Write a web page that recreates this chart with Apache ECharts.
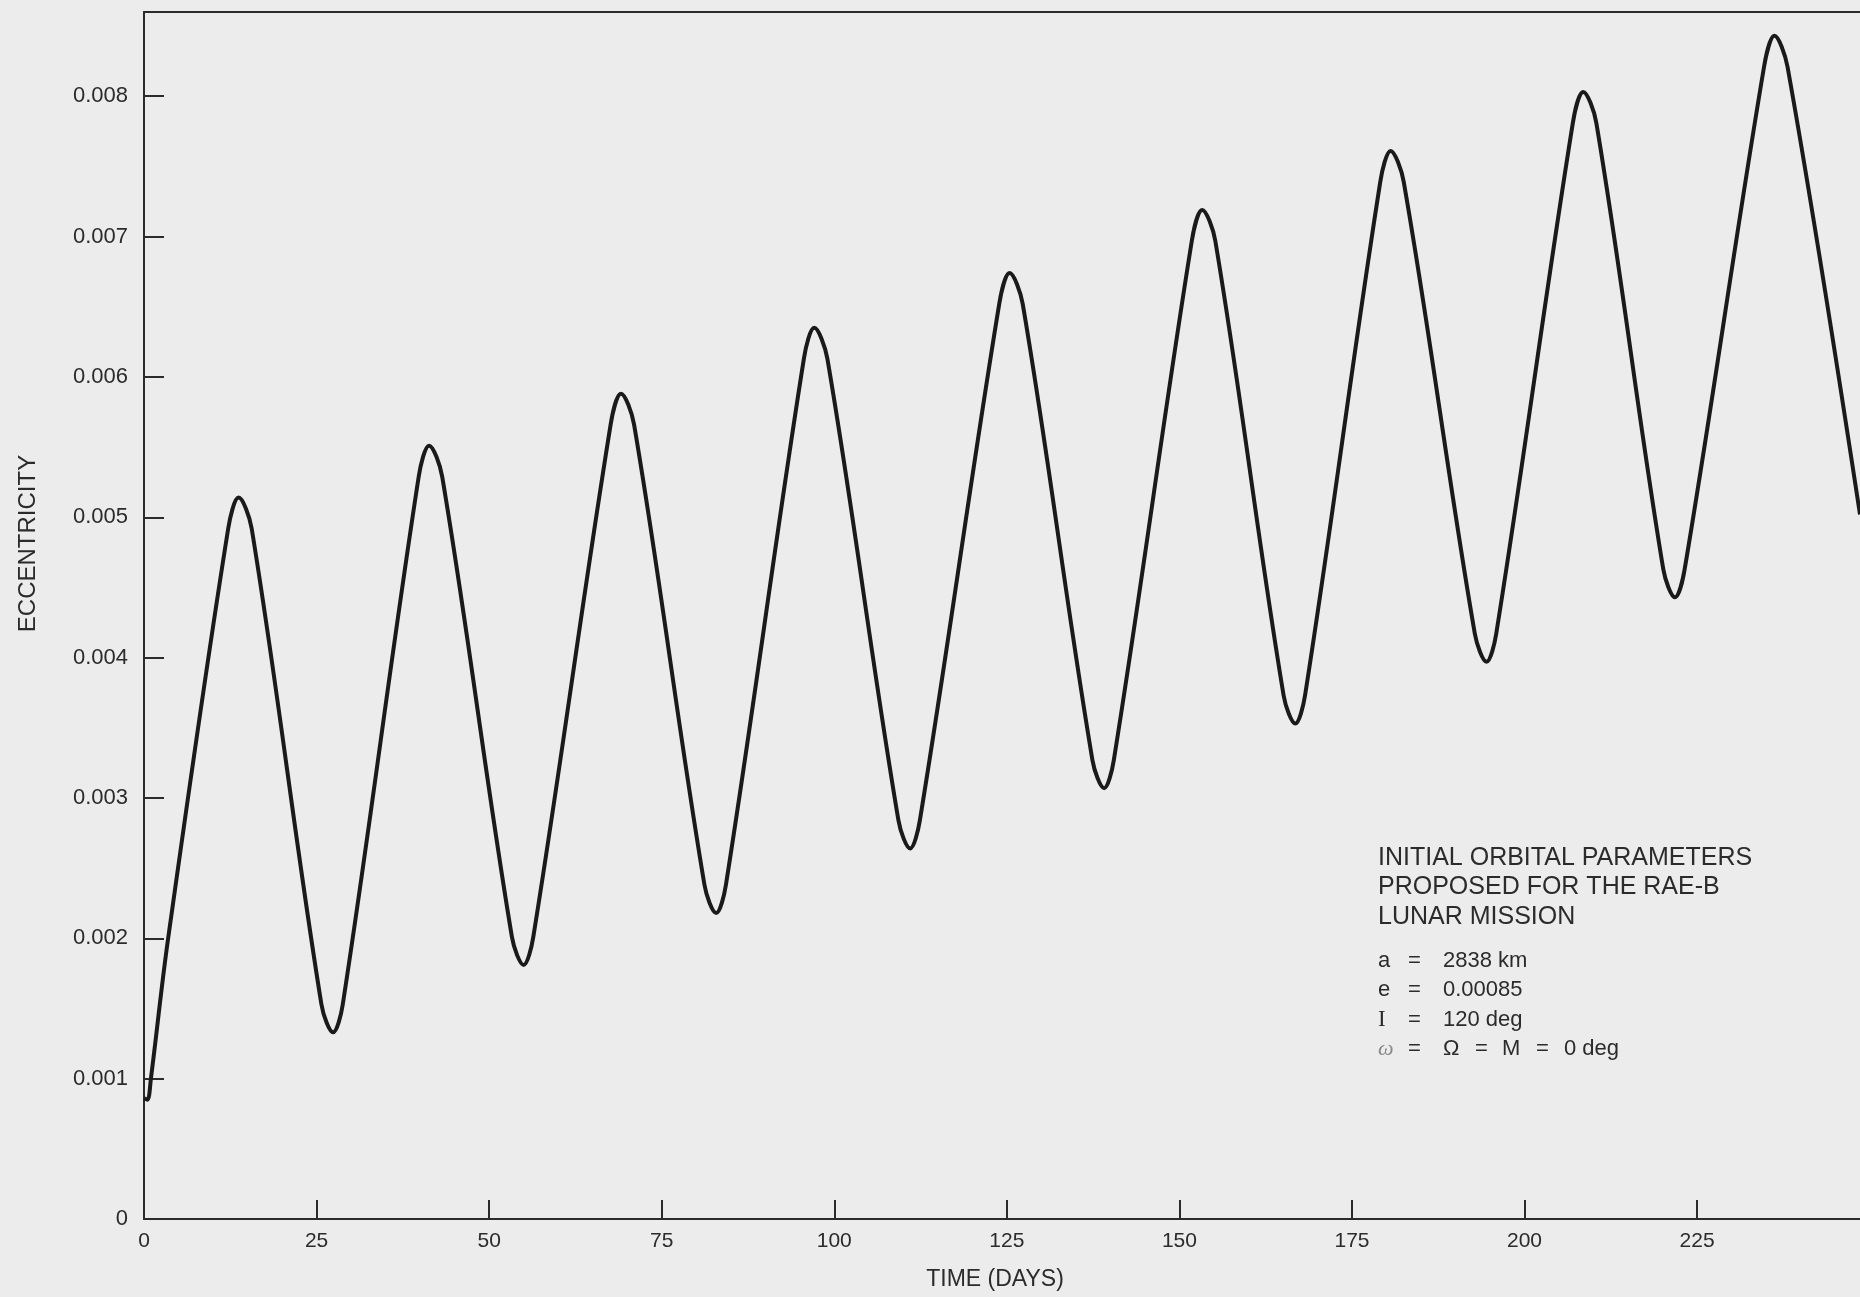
<!DOCTYPE html>
<html>
<head>
<meta charset="utf-8">
<title>Eccentricity vs time</title>
<script src="https://cdn.jsdelivr.net/npm/echarts@6/dist/echarts.min.js"></script>
<style>
  html, body { margin: 0; padding: 0; background: #ececec; }
  #chart { width: 1860px; height: 1297px; }
</style>
</head>
<body>
<div id="chart"></div>
<script>
// eccentricity history: start, then each peak / trough with the
// two shoulder points around it so the tips come out rounded
const days = [
  0, 0.5, 1.0, 3.5,
  12.2, 13.7, 15.6,
  25.7, 27.4, 28.8,
  39.8, 41.3, 43.2,
  53.3, 55.0, 56.4,
  67.6, 69.1, 71.0,
  81.2, 82.9, 84.3,
  95.6, 97.1, 99.0,
  109.3, 111.0, 112.4,
  123.9, 125.4, 127.3,
  137.4, 139.1, 140.5,
  151.8, 153.3, 155.2,
  165.1, 166.8, 168.2,
  179.1, 180.6, 182.5,
  192.8, 194.5, 195.9,
  207.0, 208.5, 210.4,
  220.1, 221.8, 223.2,
  234.7, 236.2, 238.1,
  248.6
];
const ecc = [
  0.00086, 0.00085, 0.00100, 0.00200,
  0.00492, 0.00514, 0.00492,
  0.00153, 0.00133, 0.00153,
  0.00529, 0.00551, 0.00529,
  0.00201, 0.00181, 0.00201,
  0.00566, 0.00588, 0.00566,
  0.00238, 0.00218, 0.00238,
  0.00613, 0.00635, 0.00613,
  0.00284, 0.00264, 0.00284,
  0.00652, 0.00674, 0.00652,
  0.00327, 0.00307, 0.00327,
  0.00697, 0.00719, 0.00697,
  0.00373, 0.00353, 0.00373,
  0.00739, 0.00761, 0.00739,
  0.00417, 0.00397, 0.00417,
  0.00781, 0.00803, 0.00781,
  0.00463, 0.00443, 0.00463,
  0.00821, 0.00843, 0.00821,
  0.00502
];

const xStep = 25;
const yStep = 0.001;

// note block in the lower right
const noteTitle = ['INITIAL ORBITAL PARAMETERS', 'PROPOSED FOR THE RAE-B', 'LUNAR MISSION'];
const noteParams = [
  ['a', '=', '2838 km'],
  ['e', '=', '0.00085'],
  ['I', '=', '120 deg']
];
const noteLast = ['ω', '=', 'Ω', '=', 'M', '=', '0 deg'];

const ink = '#2b2b2b';
const font = 'Liberation Sans';

const chart = echarts.init(document.getElementById('chart'));

// build the text block
const noteX = 1378;
const graphics = [];
noteTitle.forEach((t, i) => {
  graphics.push({
    type: 'text', x: noteX, y: 858 + i * 29.6,
    style: { text: t, fill: ink, font: '25px ' + font, textVerticalAlign: 'middle' }
  });
});
const paramCols = [noteX, 1408, 1443];
noteParams.forEach((row, i) => {
  row.forEach((t, j) => {
    graphics.push({
      type: 'text', x: paramCols[j], y: 961 + i * 29.3,
      style: {
        text: t, fill: ink, textVerticalAlign: 'middle',
        font: (t === 'I' ? '23px "Liberation Serif"' : '22px ' + font)
      }
    });
  });
});
const lastCols = [noteX, 1408, 1443, 1475, 1502, 1536, 1564];
noteLast.forEach((t, j) => {
  graphics.push({
    type: 'text', x: lastCols[j], y: 1049,
    style: {
      text: t, textVerticalAlign: 'middle',
      fill: (j === 0 ? '#8a8a8a' : ink),
      font: (j === 0 ? 'italic 22px "Liberation Serif"' : '22px ' + font)
    }
  });
});

const option = {
  backgroundColor: '#ececec',
  animation: false,
  grid: { left: 144, right: 0, top: 12, bottom: 78, containLabel: false, outerBoundsMode: 'none' },
  xAxis: [
    {
      type: 'value', min: 0, max: 248.6, interval: xStep,
      name: 'TIME (DAYS)', nameLocation: 'middle', nameGap: 49,
      nameTextStyle: { color: ink, fontSize: 23, fontFamily: font, padding: [0, 14, 0, 0] },
      axisLine: { onZero: false, lineStyle: { color: ink, width: 2 } },
      axisTick: { inside: true, length: 19, lineStyle: { color: ink, width: 2 } },
      axisLabel: { color: ink, fontSize: 21, fontFamily: font, margin: 12, showMaxLabel: false },
      splitLine: { show: false }
    },
    {
      // top frame line
      type: 'value', position: 'top', min: 0, max: 248.6,
      axisLine: { show: true, onZero: false, lineStyle: { color: ink, width: 2 } },
      axisTick: { show: false }, axisLabel: { show: false }, splitLine: { show: false }
    }
  ],
  yAxis: {
    type: 'value', min: 0, max: 0.0086, interval: yStep,
    name: 'ECCENTRICITY', nameLocation: 'middle', nameGap: 104, nameRotate: 90,
    nameTextStyle: { color: ink, fontSize: 24, fontFamily: font, padding: [0, 0, 0, 144] },
    axisLine: { onZero: false, lineStyle: { color: ink, width: 2 } },
    axisTick: { inside: true, length: 20, lineStyle: { color: ink, width: 2 } },
    axisLabel: { color: ink, fontSize: 22, fontFamily: font, margin: 16, showMaxLabel: false },
    splitLine: { show: false }
  },
  series: [
    {
      type: 'line',
      data: days.map((d, i) => [d, ecc[i]]),
      showSymbol: false,
      smooth: 0.35,
      lineStyle: { color: '#1a1a1a', width: 4 },
      silent: true
    }
  ],
  graphic: graphics
};

chart.setOption(option);
</script>
</body>
</html>
